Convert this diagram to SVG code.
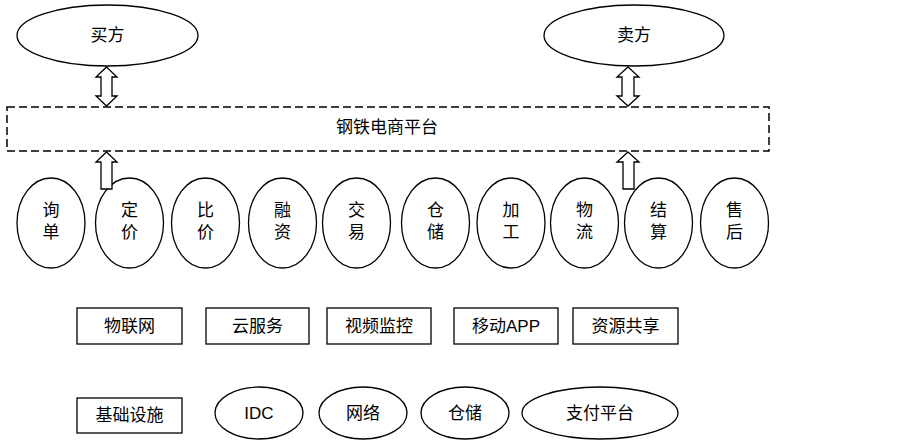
<svg xmlns="http://www.w3.org/2000/svg" width="903" height="444" viewBox="0 0 903 444">
<style>
.s{fill:#fff;stroke:#000;stroke-width:1.3}
.t{font-family:"Liberation Serif","Noto Sans CJK SC",serif;font-size:17px;fill:#000;text-anchor:middle;dominant-baseline:central}
.b{font-family:"Liberation Sans","Noto Sans CJK SC",sans-serif;font-size:17px;fill:#000;text-anchor:middle;dominant-baseline:central}
.d{fill:none;stroke:#000;stroke-width:1.5;stroke-dasharray:8,4}
</style>
<rect fill="#fff" x="0" y="0" width="903" height="444"/>
<g id="buyer"><ellipse class="s" cx="107.5" cy="35.5" rx="90.5" ry="30.5"/><text class="t" x="107.5" y="35">买方</text></g>
<g id="seller"><ellipse class="s" cx="634" cy="35.5" rx="90" ry="30.5"/><text class="t" x="634" y="35">卖方</text></g>
<g id="platform"><rect class="d" x="7" y="107" width="762" height="44"/><text class="t" x="387" y="127">钢铁电商平台</text></g>
<g id="n1"><ellipse class="s" cx="51" cy="223" rx="34" ry="45"/><text class="t" x="51" y="210">询</text><text class="t" x="51" y="232">单</text></g>
<g id="n2"><ellipse class="s" cx="129.5" cy="223" rx="34" ry="45"/><text class="t" x="129.5" y="210">定</text><text class="t" x="129.5" y="232">价</text></g>
<g id="n3"><ellipse class="s" cx="205.5" cy="223" rx="34" ry="45"/><text class="t" x="205.5" y="210">比</text><text class="t" x="205.5" y="232">价</text></g>
<g id="n4"><ellipse class="s" cx="282.5" cy="223" rx="34" ry="45"/><text class="t" x="282.5" y="210">融</text><text class="t" x="282.5" y="232">资</text></g>
<g id="n5"><ellipse class="s" cx="356.5" cy="223" rx="34" ry="45"/><text class="t" x="356.5" y="210">交</text><text class="t" x="356.5" y="232">易</text></g>
<g id="n6"><ellipse class="s" cx="435.5" cy="223" rx="34" ry="45"/><text class="t" x="435.5" y="210">仓</text><text class="t" x="435.5" y="232">储</text></g>
<g id="n7"><ellipse class="s" cx="511" cy="223" rx="34" ry="45"/><text class="t" x="511" y="210">加</text><text class="t" x="511" y="232">工</text></g>
<g id="n8"><ellipse class="s" cx="584.5" cy="223" rx="34" ry="45"/><text class="t" x="584.5" y="210">物</text><text class="t" x="584.5" y="232">流</text></g>
<g id="n9"><ellipse class="s" cx="658.5" cy="223" rx="34" ry="45"/><text class="t" x="658.5" y="210">结</text><text class="t" x="658.5" y="232">算</text></g>
<g id="n10"><ellipse class="s" cx="734.5" cy="223" rx="34" ry="45"/><text class="t" x="734.5" y="210">售</text><text class="t" x="734.5" y="232">后</text></g>
<g id="connectors">
<path class="s" d="M106.5,67 L117,77 L112,77 L112,96 L117,96 L106.5,106 L96,96 L101,96 L101,77 L96,77 Z"/>
<path class="s" d="M628,67 L639,77 L634,77 L634,96 L639,96 L628,106 L617,96 L622,96 L622,77 L617,77 Z"/>
<path class="s" d="M106.5,152 L117,162 L112,162 L112,189 L101,189 L101,162 L96,162 Z"/>
<path class="s" d="M628,152 L639,162 L634,162 L634,189 L623,189 L623,162 L617,162 Z"/>
</g>
<g id="iot"><rect class="s" x="77" y="308" width="105" height="36"/><text class="b" x="129.5" y="326">物联网</text></g>
<g id="cloud"><rect class="s" x="206" y="308" width="103" height="36"/><text class="b" x="257.5" y="326">云服务</text></g>
<g id="video"><rect class="s" x="327" y="308" width="104" height="36"/><text class="b" x="379" y="326">视频监控</text></g>
<g id="app"><rect class="s" x="454" y="308" width="104" height="36"/><text class="b" x="506" y="326">移动APP</text></g>
<g id="share"><rect class="s" x="573" y="308" width="105" height="36"/><text class="b" x="625.5" y="326">资源共享</text></g>
<g id="infra"><rect class="s" x="77" y="398" width="105" height="35"/><text class="b" x="129.5" y="415.5">基础设施</text></g>
<g id="idc"><ellipse class="s" cx="259" cy="413" rx="44" ry="26"/><text class="b" x="259" y="413">IDC</text></g>
<g id="net"><ellipse class="s" cx="363" cy="413" rx="44" ry="26"/><text class="b" x="363" y="413">网络</text></g>
<g id="store"><ellipse class="s" cx="465" cy="413" rx="44" ry="26"/><text class="b" x="465" y="413">仓储</text></g>
<g id="pay"><ellipse class="s" cx="600" cy="413" rx="78" ry="26"/><text class="b" x="600" y="413">支付平台</text></g>
</svg>
